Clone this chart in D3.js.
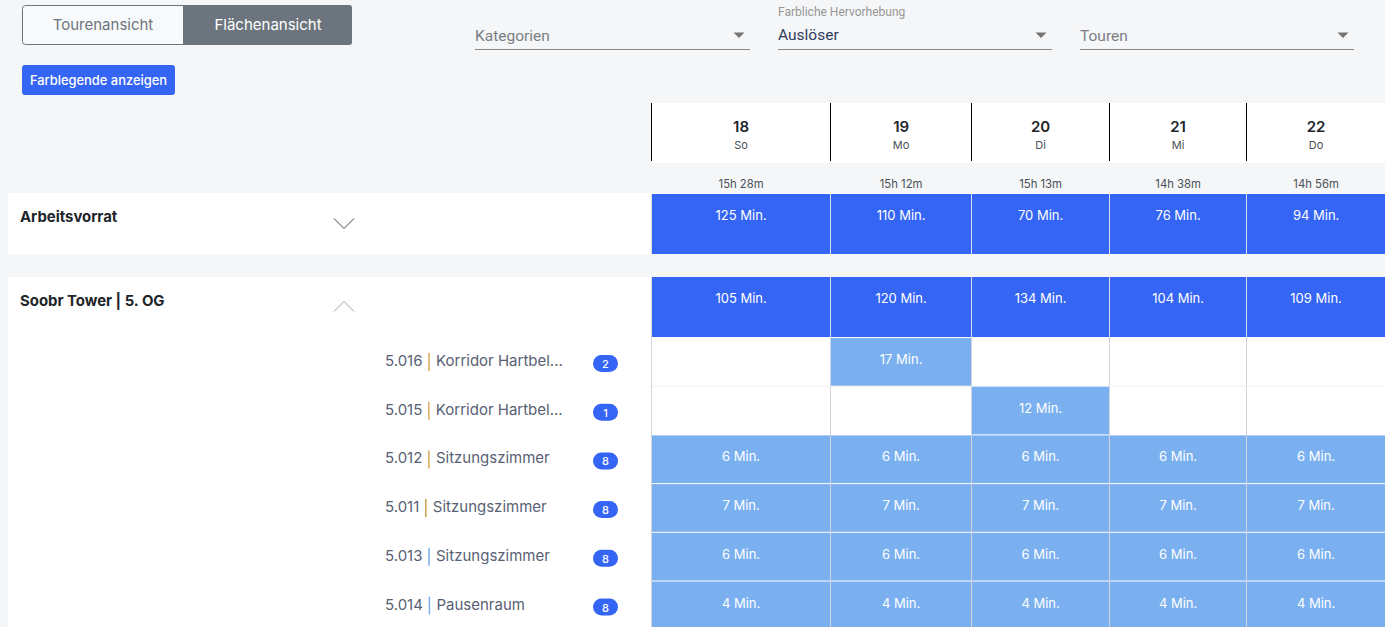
<!DOCTYPE html>
<html>
<head>
<meta charset="utf-8">
<script src="https://cdn.jsdelivr.net/npm/d3@7"></script>
<style>
  html, body { margin: 0; padding: 0; background: #f5f6f8; overflow: hidden; }
  text { font-family: Inter, "Noto Sans", sans-serif; }
</style>
</head>
<body>
<svg id="chart" width="1385" height="627"></svg>
<script>
// data
const days = ["18", "19", "20", "21", "22"];
const weekdays = ["So", "Mo", "Di", "Mi", "Do"];
const totals = ["15h 28m", "15h 12m", "15h 13m", "14h 38m", "14h 56m"];

const groups = ["Arbeitsvorrat", "Soobr Tower | 5. OG"];
const backlogMinutes = [125, 110, 70, 76, 94];
const towerMinutes = [105, 120, 134, 104, 109];

const roomIds = ["5.016", "5.015", "5.012", "5.011", "5.013", "5.014"];
const roomNames = ["Korridor Hartbel...", "Korridor Hartbel...", "Sitzungszimmer", "Sitzungszimmer", "Sitzungszimmer", "Pausenraum"];
const roomBadges = [2, 1, 8, 8, 8, 8];
const roomBarColors = ["#d9a85a", "#e0aa60", "#d9a85a", "#d0a050", "#7ab0f0", "#7ab0f0"];
const roomMinutes = [
  [null, 17, null, null, null],
  [null, null, 12, null, null],
  [6, 6, 6, 6, 6],
  [7, 7, 7, 7, 7],
  [6, 6, 6, 6, 6],
  [4, 4, 4, 4, 4]
];

// the day columns are not equal wide in the original
const columnEdges = [651, 830, 971, 1109, 1246, 1385];
const x = d3.scaleOrdinal().domain(days).range(columnEdges);
const colWidth = d => columnEdges[days.indexOf(d) + 1] - columnEdges[days.indexOf(d)];
const colMid = d => x(d) + colWidth(d) / 2 + 0.6;

const y = d3.scaleBand().domain(roomIds).range([338, 630.2]).paddingInner(0);

const blue = "#3565f4";
const lightBlue = "#7ab0f0";

const svg = d3.select("#chart");

// top controls
function drawToggle() {
  const g = svg.append("g");
  g.append("rect").attr("x", 22.5).attr("y", 5.5).attr("width", 329).attr("height", 39).attr("rx", 3)
    .attr("fill", "#f8f9fb").attr("stroke", "#6c757d");
  g.append("path").attr("d", "M183,5H349a3,3 0 0 1 3,3V42a3,3 0 0 1 -3,3H183Z").attr("fill", "#6c757d");
  g.append("text").attr("x", 103).attr("y", 30).attr("text-anchor", "middle")
    .attr("font-size", 15).attr("fill", "#6c757d").text("Tourenansicht");
  g.append("text").attr("x", 268).attr("y", 30).attr("text-anchor", "middle")
    .attr("font-size", 15).attr("fill", "#fff").text("Flächenansicht");

  g.append("rect").attr("x", 22).attr("y", 65).attr("width", 153).attr("height", 30).attr("rx", 3).attr("fill", blue);
  g.append("text").attr("x", 98.5).attr("y", 85).attr("text-anchor", "middle")
    .attr("font-size", 12.9).attr("font-weight", 500).attr("fill", "#fff").text("Farblegende anzeigen");
}

function drawSelect(left, right, label, color, baseline) {
  const g = svg.append("g");
  g.append("text").attr("x", left).attr("y", baseline).attr("font-size", 15.5)
    .style("font-family", "Roboto").attr("fill", color).text(label);
  g.append("line").attr("x1", left).attr("x2", right).attr("y1", 49.5).attr("y2", 49.5)
    .attr("stroke", "#8a8a8a");
  g.append("path").attr("transform", `translate(${right - 11},35)`)
    .attr("d", "M-5.5,-2.5H5.5L0,3Z").attr("fill", "#757575");
}

drawToggle();
drawSelect(475, 750, "Kategorien", "#7b7f85", 41);
drawSelect(778, 1052, "Auslöser", "#2e3a59", 40);
drawSelect(1080, 1354, "Touren", "#7b7f85", 41);
svg.append("text").attr("x", 778).attr("y", 16).attr("font-size", 12)
  .style("font-family", "Roboto").attr("fill", "#969696").text("Farbliche Hervorhebung");

// day header
svg.append("rect").attr("x", 651).attr("y", 103).attr("width", 734).attr("height", 60).attr("fill", "#fff");

const head = svg.selectAll("g.day").data(days).join("g").attr("class", "day");
head.append("line")
  .attr("x1", d => x(d) + 0.5).attr("x2", d => x(d) + 0.5)
  .attr("y1", 103).attr("y2", 161).attr("stroke", "#000");
head.append("text")
  .attr("x", colMid).attr("y", 132).attr("text-anchor", "middle")
  .attr("font-size", 15).attr("font-weight", 600).attr("fill", "#212529").text(d => d);
head.append("text")
  .attr("x", colMid).attr("y", 149).attr("text-anchor", "middle")
  .attr("font-size", 11).attr("fill", "#495057").text((d, i) => weekdays[i]);
head.append("text")
  .attr("x", colMid).attr("y", 188).attr("text-anchor", "middle")
  .attr("font-size", 11.3).attr("fill", "#495057").text((d, i) => totals[i]);

// white background of the two groups
svg.append("rect").attr("x", 8).attr("y", 193).attr("width", 1377).attr("height", 61).attr("fill", "#fff");
svg.append("rect").attr("x", 8).attr("y", 277).attr("width", 1377).attr("height", 350).attr("fill", "#fff");

// group titles with chevrons
const groupTop = [193, 277];
groups.forEach((name, i) => {
  svg.append("text").attr("x", 20).attr("y", groupTop[i] + 29)
    .attr("font-size", 14.9).attr("font-weight", 700).attr("fill", "#212529").text(name);
});
svg.append("path").attr("d", "M334,218.5L344,228.5L354,218.5").attr("fill", "none").attr("stroke", "#3c4653");
svg.append("path").attr("d", "M334,311.5L344,301.5L354,311.5").attr("fill", "none").attr("stroke", "#9aa0a8");

// summary cells
function drawSummary(values, top) {
  const g = svg.append("g");
  g.selectAll("rect").data(days).join("rect")
    .attr("x", d => x(d) + 1).attr("y", top)
    .attr("width", d => colWidth(d) - 1).attr("height", 60)
    .attr("fill", blue);
  g.selectAll("line").data(days).join("line")
    .attr("x1", d => x(d) + 0.5).attr("x2", d => x(d) + 0.5)
    .attr("y1", top).attr("y2", top + 60).attr("stroke", "#d9dde6");
  g.selectAll("text").data(days).join("text")
    .attr("x", colMid).attr("y", top + 26).attr("text-anchor", "middle")
    .attr("font-size", 13).attr("fill", "#fff").text((d, i) => values[i] + " Min.");
}
drawSummary(backlogMinutes, 194);
drawSummary(towerMinutes, 277);

// column and row rules of the room grid
svg.selectAll("line.vrule").data(days).join("line").attr("class", "vrule")
  .attr("x1", d => x(d) + 0.5).attr("x2", d => x(d) + 0.5)
  .attr("y1", 337).attr("y2", 627).attr("stroke", "#d3d3e0");
svg.selectAll("line.hrule").data(roomIds.slice(1, 2)).join("line").attr("class", "hrule")
  .attr("x1", 652).attr("x2", 1385)
  .attr("y1", d => y(d) - 0.5).attr("y2", d => y(d) - 0.5).attr("stroke", "#f1f1f4");

// room rows
const rows = svg.selectAll("g.room").data(roomIds).join("g").attr("class", "room");
rows.each(function (id, r) {
  const row = d3.select(this);
  const mid = y(id) + 28;
  const num = row.append("text").attr("x", 385).attr("y", mid).attr("font-size", 15)
    .attr("fill", "#586174").text(id);
  const w = num.node().getComputedTextLength();
  row.append("line").attr("x1", 385 + w + 6.5).attr("x2", 385 + w + 6.5)
    .attr("y1", mid - 13).attr("y2", mid + 5).attr("stroke", roomBarColors[r]).attr("stroke-width", 1.5);
  row.append("text").attr("x", 385 + w + 13.5).attr("y", mid).attr("font-size", 15)
    .attr("fill", "#586174").text(roomNames[r]);

  row.append("rect").attr("x", 593).attr("y", mid - 11).attr("width", 25).attr("height", 17).attr("rx", 8.5).attr("fill", blue);
  row.append("text").attr("x", 605.5).attr("y", mid + 2).attr("text-anchor", "middle")
    .attr("font-size", 11).attr("font-weight", 500).attr("fill", "#fff").text(roomBadges[r]);

  days.forEach((d, c) => {
    const v = roomMinutes[r][c];
    if (v === null) return;
    row.append("rect").attr("x", x(d) + 1).attr("y", y(id))
      .attr("width", colWidth(d) - 1).attr("height", y.bandwidth() - 1).attr("fill", lightBlue);
    row.append("text").attr("x", colMid(d)).attr("y", y(id) + 26).attr("text-anchor", "middle")
      .attr("font-size", 13).attr("fill", "#fff").text(v + " Min.");
  });
});
</script>
</body>
</html>
